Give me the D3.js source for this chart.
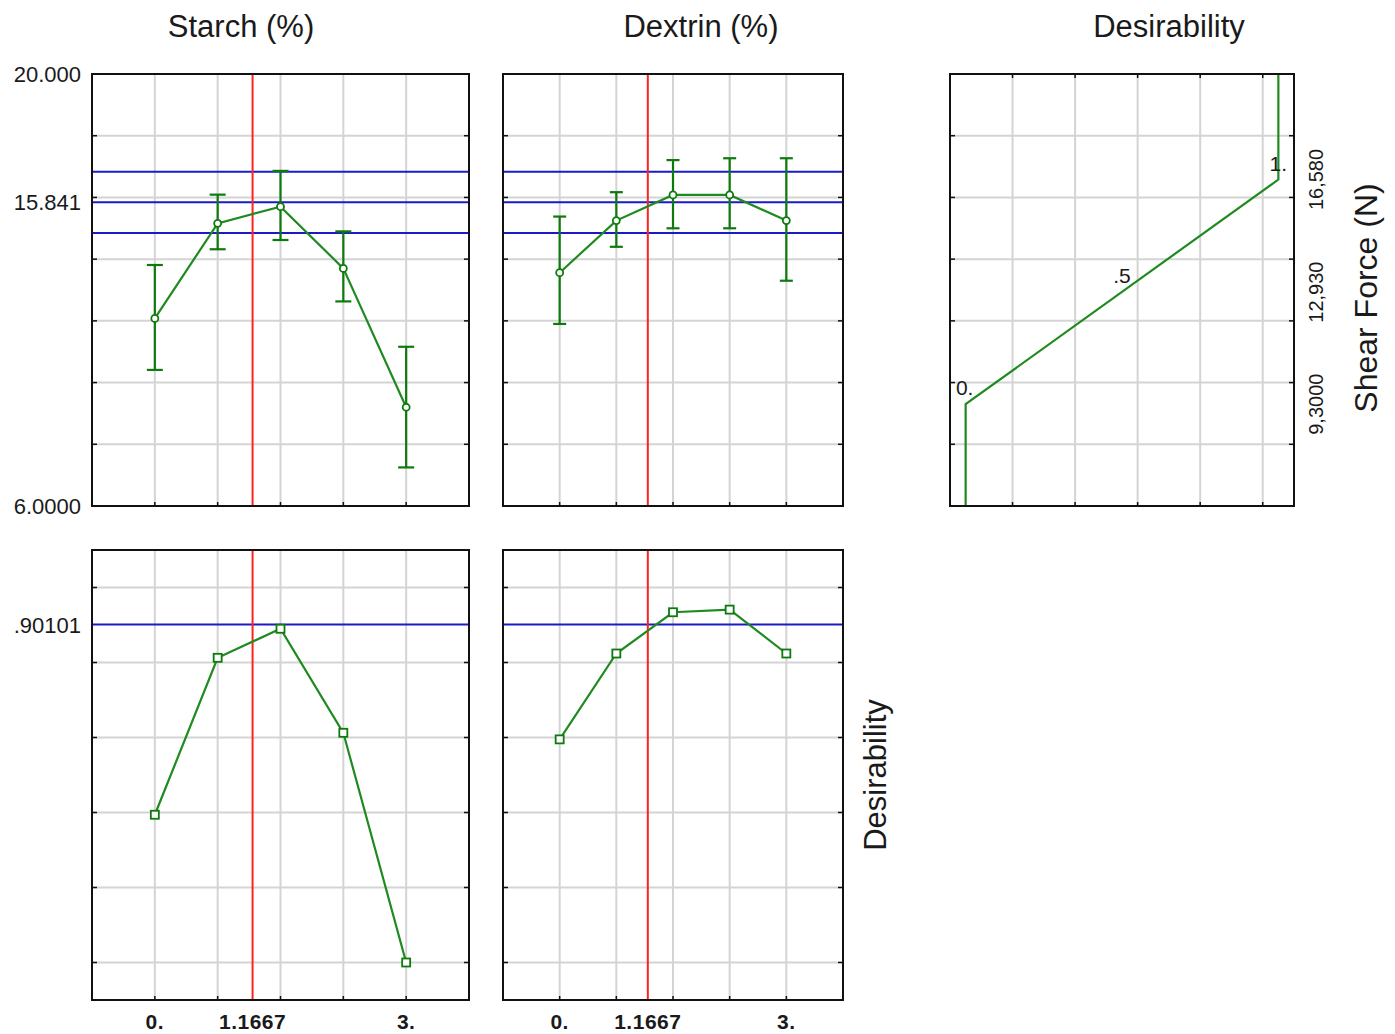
<!DOCTYPE html>
<html>
<head>
<meta charset="utf-8">
<script src="https://cdn.jsdelivr.net/npm/d3@7"></script>
<style>
  body { margin: 0; background: #fff; }
  svg { display: block; }
  text { font-family: "Liberation Sans", Arial, sans-serif; fill: #1a1a1a; }
</style>
</head>
<body>
<script>
// factor levels (both factors use the same 5 levels)
var levels = [0, 0.75, 1.5, 2.25, 3];
var current = 1.1667;

// Shear Force (N) predicted at each level, with confidence limits
var starchShear  = [12.08, 15.16, 15.70, 13.70, 9.20];
var starchLow    = [10.41, 14.32, 14.62, 12.63, 7.25];
var starchHigh   = [13.81, 16.09, 16.86, 14.90, 11.16];
var dextrinShear = [13.56, 15.25, 16.08, 16.08, 15.25];
var dextrinLow   = [11.90, 14.40, 15.00, 15.00, 13.30];
var dextrinHigh  = [15.38, 16.17, 17.21, 17.27, 17.27];

// desirability at each level
var starchDesir  = [0.394, 0.8125, 0.890, 0.6125, 0];
var dextrinDesir = [0.595, 0.824, 0.934, 0.941, 0.824];

// current prediction and its limits, current desirability
var shearLines = [14.85, 15.841, 16.83];
var desirLine = 0.90101;

// desirability function for shear force
var dfShear = [6, 9.3, 16.58, 20];
var dfValue = [0, 0, 1, 1];
var dfLabels = [{d: 0, s: 9.3, t: "0."}, {d: 0.5, s: 12.94, t: ".5"}, {d: 1, s: 16.58, t: "1."}];

// axis tick/grid values
var shearGrid = [8, 10, 12, 14, 16, 18];
var desirGrid = [0, 0.2, 0.4, 0.6, 0.8, 1.0];
var dfGrid = [0.15, 0.35, 0.55, 0.75, 0.95];
var shearTickLabels = ["20.000", "15.841", "6.0000"], shearTickVals = [20, 15.841, 6];
var dfTickLabels = ["9,3000", "12,930", "16,580"], dfTickVals = [9.3, 12.93, 16.58];
var xTickLabels = ["0.", "1.1667", "3."], xTickVals = [0, 1.1667, 3];

var W = 1395, H = 1034;
var green = "#1f8a1f", errGreen = "#0d7a0d", blue = "#1a1ac8", red = "#ff2222", gridc = "#d4d4d4";

var svg = d3.select("body").append("svg").attr("width", W).attr("height", H);

var topY = d3.scaleLinear().domain([6, 20]).range([506, 74]);
var botY = d3.scaleLinear().domain([-0.1, 1.1]).range([1000, 550]);

function frame(x, y) {
  var g = svg.append("g");
  var x0 = x.range()[0], x1 = x.range()[1], y0 = y.range()[1], y1 = y.range()[0];
  return {g: g, x0: x0, x1: x1, y0: y0, y1: y1};
}

function gridAndFrame(p, x, y, xg, yg) {
  p.g.selectAll(".vg").data(xg).enter().append("line")
    .attr("x1", function (d) { return x(d); }).attr("x2", function (d) { return x(d); })
    .attr("y1", p.y0).attr("y2", p.y1)
    .attr("stroke", gridc).attr("stroke-width", 2);
  p.g.selectAll(".hg").data(yg).enter().append("line")
    .attr("x1", p.x0).attr("x2", p.x1)
    .attr("y1", function (d) { return y(d); }).attr("y2", function (d) { return y(d); })
    .attr("stroke", gridc).attr("stroke-width", 2);
  // inward ticks
  yg.forEach(function (d) {
    p.g.append("line").attr("x1", p.x0).attr("x2", p.x0 + 5).attr("y1", y(d)).attr("y2", y(d)).attr("stroke", "#111").attr("stroke-width", 1.5);
    p.g.append("line").attr("x1", p.x1 - 5).attr("x2", p.x1).attr("y1", y(d)).attr("y2", y(d)).attr("stroke", "#111").attr("stroke-width", 1.5);
  });
  xg.forEach(function (d) {
    p.g.append("line").attr("x1", x(d)).attr("x2", x(d)).attr("y1", p.y1 - 4).attr("y2", p.y1).attr("stroke", "#111").attr("stroke-width", 1.5);
  });
}

function border(p) {
  p.g.append("rect").attr("x", p.x0).attr("y", p.y0)
    .attr("width", p.x1 - p.x0).attr("height", p.y1 - p.y0)
    .attr("fill", "none").attr("stroke", "#111").attr("stroke-width", 2);
}

function factorPanel(x0, x1, y, vals, lo, hi, hlines, yg, bottom) {
  var x = d3.scaleLinear().domain([-0.75, 3.75]).range([x0, x1]);
  var p = frame(x, y);
  gridAndFrame(p, x, y, levels, yg);
  hlines.forEach(function (v) {
    p.g.append("line").attr("x1", p.x0).attr("x2", p.x1).attr("y1", y(v)).attr("y2", y(v))
      .attr("stroke", blue).attr("stroke-width", 2);
  });
  p.g.append("line").attr("x1", x(current)).attr("x2", x(current)).attr("y1", p.y0).attr("y2", p.y1)
    .attr("stroke", red).attr("stroke-width", 2);

  var pts = levels.map(function (l, i) { return [l, vals[i]]; });
  var line = d3.line().x(function (d) { return x(d[0]); }).y(function (d) { return y(d[1]); });

  if (lo) {
    var cw = (x1 - x0) < 360 ? 6.5 : 8;
    levels.forEach(function (l, i) {
      var cx = x(l);
      p.g.append("line").attr("x1", cx).attr("x2", cx).attr("y1", y(lo[i])).attr("y2", y(hi[i]))
        .attr("stroke", errGreen).attr("stroke-width", 2.2);
      [lo[i], hi[i]].forEach(function (v) {
        p.g.append("line").attr("x1", cx - cw).attr("x2", cx + cw).attr("y1", y(v)).attr("y2", y(v))
          .attr("stroke", errGreen).attr("stroke-width", 2.2);
      });
    });
  }
  p.g.append("path").datum(pts).attr("d", line).attr("fill", "none")
    .attr("stroke", green).attr("stroke-width", 2.2);

  if (bottom) {
    p.g.selectAll(".m").data(pts).enter().append("rect")
      .attr("x", function (d) { return x(d[0]) - 4; }).attr("y", function (d) { return y(d[1]) - 4; })
      .attr("width", 8).attr("height", 8)
      .attr("fill", "#fff").attr("stroke", errGreen).attr("stroke-width", 1.8);
    p.g.selectAll(".xl").data(xTickVals).enter().append("text")
      .attr("x", function (d) { return x(d); }).attr("y", 1029)
      .attr("text-anchor", "middle").style("font-size", "21px").style("font-weight", "bold")
      .attr("letter-spacing", "0.5px")
      .text(function (d, i) { return xTickLabels[i]; });
  } else {
    p.g.selectAll(".m").data(pts).enter().append("circle")
      .attr("cx", function (d) { return x(d[0]); }).attr("cy", function (d) { return y(d[1]); })
      .attr("r", 3.5).attr("fill", "#fff").attr("stroke", errGreen).attr("stroke-width", 1.8);
  }
  border(p);
  return p;
}

// top row: Shear Force
factorPanel(92, 469, topY, starchShear, starchLow, starchHigh, shearLines, shearGrid, false);
factorPanel(503, 843, topY, dextrinShear, dextrinLow, dextrinHigh, shearLines, shearGrid, false);
// bottom row: Desirability
factorPanel(92, 469, botY, starchDesir, null, null, [desirLine], desirGrid, true);
factorPanel(503, 843, botY, dextrinDesir, null, null, [desirLine], desirGrid, true);

// desirability function panel
var dfx = d3.scaleLinear().domain([-0.05, 1.05]).range([950, 1294]);
var dp = frame(dfx, topY);
gridAndFrame(dp, dfx, topY, dfGrid, shearGrid);
dfGrid.forEach(function (d) {
  dp.g.append("line").attr("x1", dfx(d)).attr("x2", dfx(d)).attr("y1", dp.y0).attr("y2", dp.y0 + 4).attr("stroke", "#111").attr("stroke-width", 1.5);
});
var dfPts = dfShear.map(function (s, i) { return [dfValue[i], s]; });
dp.g.append("path").datum(dfPts)
  .attr("d", d3.line().x(function (d) { return dfx(d[0]); }).y(function (d) { return topY(d[1]); }))
  .attr("fill", "none").attr("stroke", green).attr("stroke-width", 2.2);
dp.g.selectAll(".dl").data(dfLabels).enter().append("text")
  .attr("x", function (d) { return dfx(d.d) - (d.d === 0 ? 1 : 0); })
  .attr("y", function (d) { return topY(d.s) - 9; })
  .attr("text-anchor", "middle").style("font-size", "21px")
  .text(function (d) { return d.t; });
border(dp);

// left tick labels
svg.selectAll(".yl").data(shearTickVals).enter().append("text")
  .attr("x", 81).attr("y", function (d) { return topY(d); })
  .attr("dy", "0.36em").attr("text-anchor", "end").style("font-size", "22px")
  .text(function (d, i) { return shearTickLabels[i]; });
svg.append("text").attr("x", 81).attr("y", botY(desirLine)).attr("dy", "0.36em")
  .attr("text-anchor", "end").style("font-size", "22px").text(".90101");

// right rotated tick labels for desirability panel
svg.selectAll(".rl").data(dfTickVals).enter().append("text")
  .attr("transform", function (d) { return "translate(1323," + topY(d) + ") rotate(-90)"; })
  .attr("text-anchor", "middle").style("font-size", "20px")
  .text(function (d, i) { return dfTickLabels[i]; });

// titles
var titles = [["Starch (%)", 241], ["Dextrin (%)", 701], ["Desirability", 1169]];
svg.selectAll(".tt").data(titles).enter().append("text")
  .attr("x", function (d) { return d[1]; }).attr("y", 37)
  .attr("text-anchor", "middle").style("font-size", "31px")
  .text(function (d) { return d[0]; });

// row labels
svg.append("text").attr("transform", "translate(886,775) rotate(-90)")
  .attr("text-anchor", "middle").style("font-size", "31px").text("Desirability");
svg.append("text").attr("transform", "translate(1377,298) rotate(-90)")
  .attr("text-anchor", "middle").style("font-size", "32px").text("Shear Force (N)");
</script>
</body>
</html>
